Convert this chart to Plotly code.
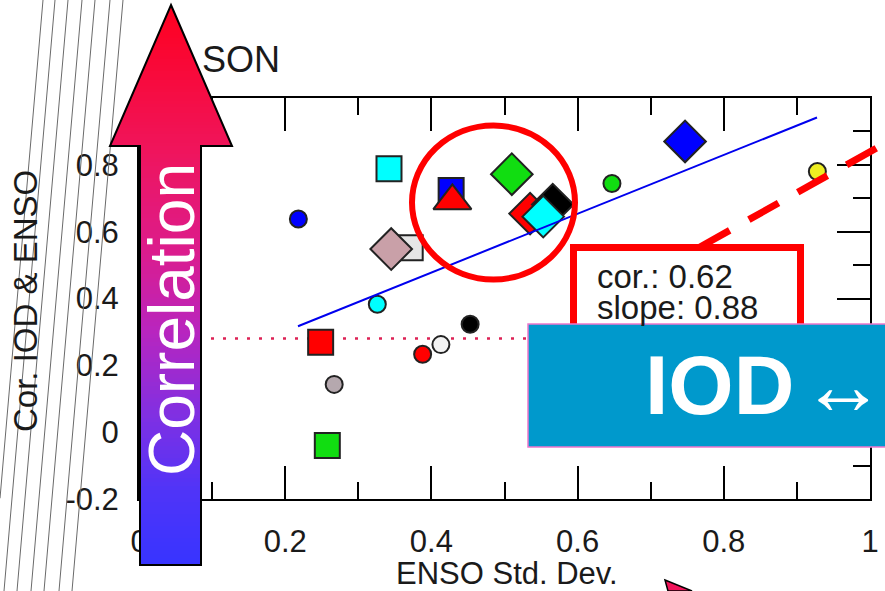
import plotly.graph_objects as go

# ---------------- data ----------------
circ_x = [0.218, 0.326, 0.453, 0.388, 0.413, 0.267, 0.647, 0.928]
circ_y = [0.638, 0.383, 0.323, 0.233, 0.262, 0.143, 0.744, 0.780]
circ_c = ["#0000FF", "#00FFFF", "#000000", "#FF0000", "#F2F2F2", "#B5A8AE", "#11DD11", "#EEEE22"]

sq_x = [0.342, 0.371, 0.427, 0.2485, 0.2576]
sq_y = [0.788, 0.552, 0.723, 0.269, -0.040]
sq_c = ["#00FFFF", "#E6E6E6", "#0000FF", "#FF0000", "#11DD11"]

dia_x = [0.345, 0.510, 0.535, 0.566, 0.553, 0.747]
dia_y = [0.548, 0.772, 0.654, 0.681, 0.645, 0.870]
dia_c = ["#C9A0A8", "#11DD11", "#FF0000", "#000000", "#00FFFF", "#0000FF"]

tri_x = [0.4287]
tri_y = [0.692]
tri_c = ["#FF0000"]

fit_x = [0.2175, 0.9275]
fit_slope = 0.88
fit_y0 = 0.317
sig_level = 0.28
cor_value = 0.62

x_tickvals = [0, 0.2, 0.4, 0.6, 0.8, 1]
x_ticktext = ["0", "0.2", "0.4", "0.6", "0.8", "1"]
y_tickvals = [-0.2, 0, 0.2, 0.4, 0.6, 0.8]
y_ticktext = ["-0.2", "0", "0.2", "0.4", "0.6", "0.8"]

# ---------------- layout helpers ----------------
W, H = 885, 591
FONT = "Liberation Sans, Arial, Helvetica, sans-serif"
TXT = "#1a1a1a"


def px(x):
    return min(max(x, 0), W) / W


def py(y):
    return 1 - min(max(y, 0), H) / H


def path(points, close=True):
    s = "M" + " L".join(f"{px(a):.5f},{py(b):.5f}" for a, b in points)
    return s + (" Z" if close else "")


fig = go.Figure()

fig.add_trace(go.Scatter(x=[0, 1], y=[sig_level, sig_level], mode="lines",
                         line=dict(color="#DD2255", width=2.5, dash="3px,9px"),
                         hoverinfo="skip"))
fig.add_trace(go.Scatter(x=circ_x, y=circ_y, mode="markers",
                         marker=dict(symbol="circle", size=17, color=circ_c,
                                     line=dict(color="#222222", width=2))))
fig.add_trace(go.Scatter(x=sq_x, y=sq_y, mode="markers",
                         marker=dict(symbol="square", size=25, color=sq_c,
                                     line=dict(color="#222222", width=2))))
fig.add_trace(go.Scatter(x=dia_x, y=dia_y, mode="markers",
                         marker=dict(symbol="diamond", size=32, color=dia_c,
                                     line=dict(color="#222222", width=2))))
fig.add_trace(go.Scatter(x=tri_x, y=tri_y, mode="markers",
                         marker=dict(symbol="triangle-up", size=33, color=tri_c,
                                     line=dict(color="#222222", width=2))))
fit_y = [fit_y0 + fit_slope * (v - fit_x[0]) for v in fit_x]
fig.add_trace(go.Scatter(x=fit_x, y=fit_y, mode="lines",
                         line=dict(color="#0000EE", width=2)))

axis_common = dict(
    automargin=False,
    showgrid=False, zeroline=False, showline=True, linecolor="black", linewidth=2,
    mirror="ticks", ticks="inside", ticklen=33, tickwidth=2, tickcolor="black",
    tickfont=dict(family=FONT, size=31, color=TXT),
)

fig.update_layout(
    width=W, height=H, margin=dict(l=0, r=0, t=0, b=0, pad=0),
    paper_bgcolor="white", plot_bgcolor="white", showlegend=False,
    xaxis=dict(range=[0, 1], domain=[139 / W, 870 / W], tickvals=x_tickvals,
               ticktext=x_ticktext, ticklabelstandoff=14,
               minor=dict(ticks="inside", ticklen=17, tickwidth=2, tickcolor="black",
                          dtick=0.1, tick0=0),
               **axis_common),
    yaxis=dict(range=[-0.2, 1.0], domain=[1 - 499 / H, 1 - 98 / H], tickvals=y_tickvals,
               ticktext=y_ticktext, ticklabelstandoff=12,
               minor=dict(ticks="inside", ticklen=17, tickwidth=2, tickcolor="black",
                          dtick=0.1, tick0=0),
               **axis_common),
)

shapes = []

# thin tilted lines on the left (kept inside the page)
for xt in [43, 55, 68, 82, 95, 110, 123]:
    x_bot = xt - 51
    if x_bot >= 0:
        shapes.append(dict(type="line", xref="paper", yref="paper",
                           x0=px(xt), y0=py(0), x1=px(x_bot), y1=py(591),
                           line=dict(color="#6a6a6a", width=1)))
    else:
        y_end = 591 * xt / 51.0
        shapes.append(dict(type="line", xref="paper", yref="paper",
                           x0=px(xt), y0=py(0), x1=px(0), y1=py(y_end),
                           line=dict(color="#6a6a6a", width=1)))

# red ellipse
shapes.append(dict(type="circle", xref="paper", yref="paper",
                   x0=px(412), x1=px(575), y0=py(125.5), y1=py(279.5),
                   line=dict(color="#FF0000", width=6)))
# red box
shapes.append(dict(type="rect", xref="paper", yref="paper",
                   x0=px(573.5), x1=px(800.5), y0=py(247.5), y1=py(400),
                   line=dict(color="#FF0000", width=7)))
# red dashed pointer
shapes.append(dict(type="line", xref="paper", yref="paper",
                   x0=px(700), y0=py(247), x1=px(885), y1=py(143.4),
                   line=dict(color="#FF0000", width=7, dash="34px,22px")))

# gradient arrow
stops = [(5, (255, 0, 30)), (146, (240, 20, 90)), (250, (220, 28, 140)),
         (330, (185, 37, 190)), (420, (125, 48, 228)), (490, (80, 52, 248)),
         (565, (55, 52, 255))]


def col(y):
    for (ya, ca), (yb, cb) in zip(stops[:-1], stops[1:]):
        if y <= yb:
            t = max(0.0, (y - ya) / (yb - ya))
            c = [round(ca[i] + (cb[i] - ca[i]) * t) for i in range(3)]
            return f"rgb({c[0]},{c[1]},{c[2]})"
    c = stops[-1][1]
    return f"rgb({c[0]},{c[1]},{c[2]})"


cx, tip, base, shaft_bot = 171, 5, 146, 565
hw_base = 61


def hw(y):
    return hw_base * (y - tip) / (base - tip)


y = tip
step = 3
while y < base:
    yb = min(y + step, base)
    yb2 = min(yb + 0.8, base + 0.8)
    shapes.append(dict(type="path", xref="paper", yref="paper",
                       path=path([(cx - hw(y), y), (cx + hw(y), y),
                                  (cx + hw(min(yb2, base)), yb2),
                                  (cx - hw(min(yb2, base)), yb2)]),
                       fillcolor=col((y + yb) / 2), line=dict(width=0)))
    y = yb
y = base
step = 4
while y < shaft_bot:
    yb = min(y + step, shaft_bot)
    shapes.append(dict(type="rect", xref="paper", yref="paper",
                       x0=px(140), x1=px(201), y0=py(y), y1=py(min(yb + 0.8, shaft_bot)),
                       fillcolor=col((y + yb) / 2), line=dict(width=0)))
    y = yb
shapes.append(dict(type="path", xref="paper", yref="paper",
                   path=path([(171, 5), (232, 146), (201, 146), (201, 565),
                              (140, 565), (140, 146), (110, 146)]),
                   line=dict(color="black", width=2)))

# IOD box (runs off the right edge)
shapes.append(dict(type="rect", xref="paper", yref="paper",
                   x0=px(528), x1=px(885), y0=py(324), y1=py(447),
                   fillcolor="#0099CC", line=dict(width=0)))
shapes.append(dict(type="path", xref="paper", yref="paper",
                   path=path([(885, 324), (528, 324), (528, 447), (885, 447)], close=False),
                   line=dict(color="#EE77CC", width=1.5)))
# small pink arrow corner at bottom
shapes.append(dict(type="path", xref="paper", yref="paper",
                   path=path([(665, 580), (692, 591), (668, 591)]),
                   fillcolor="#F0145A", line=dict(color="black", width=1.5)))

for s in shapes:
    s.setdefault("layer", "above")
fig.update_layout(shapes=shapes)

ann = []


def text(x, y, t, size, color=TXT, xanchor="center", angle=0, **kw):
    ann.append(dict(x=px(x), y=py(y), xref="paper", yref="paper", text=t,
                    showarrow=False, xanchor=xanchor, yanchor="middle",
                    textangle=angle, font=dict(family=FONT, size=size, color=color), **kw))


text(200, 59, "SON", 36, xanchor="left")
text(25, 301, "Cor. IOD &amp; ENSO", 33, angle=-90)
text(507, 573, "ENSO Std. Dev.", 31)
text(595, 276, f"cor.: {cor_value:.2f}", 33, xanchor="left")
text(595, 307, f"slope: {fit_slope:.2f}", 33, xanchor="left")
text(172, 320, "Correlation", 64, color="white", angle=-90)
text(643, 385, "<b>IOD</b>\u200a↔", 84, color="white", xanchor="left")

fig.update_layout(annotations=ann)

fig.write_html(
    "out.html",
    config={"displayModeBar": False},
    post_script=(
        "document.body.style.margin='0';"
        "document.body.style.overflow='hidden';"
        "document.documentElement.style.overflow='hidden';"
    ),
)
